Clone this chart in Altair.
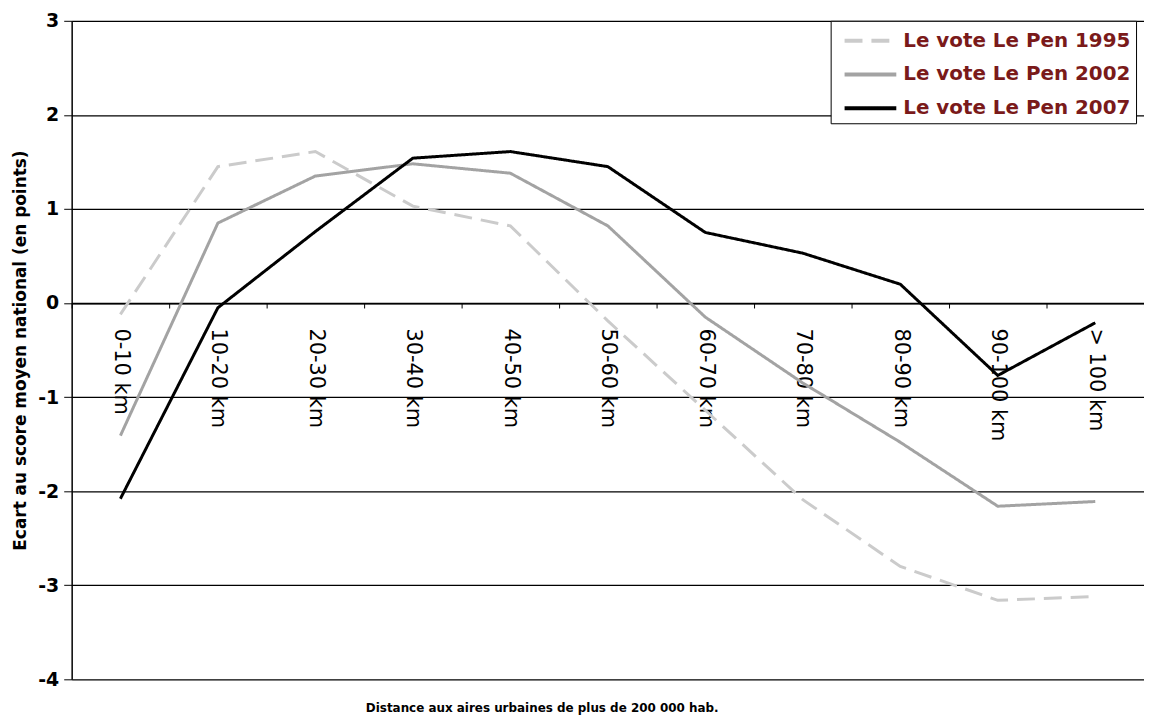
import altair as alt
import pandas as pd

categories = ["0-10 km", "10-20 km", "20-30 km", "30-40 km", "40-50 km", "50-60 km",
              "60-70 km", "70-80 km", "80-90 km", "90-100 km", "> 100 km"]
series_names = ["Le vote Le Pen 1995", "Le vote Le Pen 2002", "Le vote Le Pen 2007"]
v1995 = [-0.12, 1.45, 1.61, 1.03, 0.82, -0.19, -1.14, -2.09, -2.80, -3.16, -3.12]
v2002 = [-1.41, 0.85, 1.35, 1.48, 1.38, 0.82, -0.15, -0.85, -1.48, -2.16, -2.11]
v2007 = [-2.08, -0.05, 0.76, 1.54, 1.61, 1.45, 0.75, 0.53, 0.20, -0.77, -0.21]
y_ticks = [-4, -3, -2, -1, 0, 1, 2, 3]

rows = []
for name, vals in zip(series_names, [v1995, v2002, v2007]):
    for c, v in zip(categories, vals):
        rows.append({"cat": c, "serie": name, "val": v})
df = pd.DataFrame(rows)

W, H = 1078, 662
zero_offset = -(H - H * 3 / 7)

color_scale = alt.Scale(domain=series_names, range=["#cbcbcb", "#a3a3a3", "#000000"])
dash_scale = alt.Scale(domain=series_names, range=[[18, 9], [1, 0], [1, 0]])

legend = alt.Legend(
    title=None, orient="none", legendX=763, legendY=0,
    strokeColor="#000000", fillColor="#ffffff", padding=5,
    symbolType="M-2,0H2", symbolSize=676, symbolStrokeWidth=4, symbolOffset=20,
    labelOffset=18, labelFont="DejaVu Sans", labelFontSize=20, labelFontWeight="bold",
    labelColor="#7a1a1a", rowPadding=9, labelLimit=400,
)

chart = alt.Chart(df).mark_line(strokeWidth=3).encode(
    x=alt.X("cat:N", sort=categories,
            scale=alt.Scale(paddingInner=0, paddingOuter=0),
            axis=alt.Axis(title=None, offset=zero_offset, labelAngle=90, labelAlign="left",
                          labelBaseline="middle", labelPadding=20, labelFont="DejaVu Sans",
                          labelFontSize=21, labelColor="#000000", tickBand="extent",
                          tickSize=5, tickColor="#000000", domainColor="#000000",
                          domainWidth=1.5, grid=False)),
    y=alt.Y("val:Q", scale=alt.Scale(domain=[-4, 3], nice=False),
            axis=alt.Axis(title="Ecart au score moyen national (en points)", values=y_ticks,
                          labelExpr="toString(datum.value)",
                          labelFont="DejaVu Sans", labelFontSize=19,
                          labelFontWeight="bold", labelColor="#000000", labelPadding=5,
                          tickSize=8, tickColor="#000000", domainColor="#000000",
                          domainWidth=1.5, gridColor="#000000", gridWidth=1.2,
                          gridOpacity=1, titleFont="DejaVu Sans", titleFontSize=17,
                          titleFontWeight="bold", titleColor="#000000", titlePadding=8)),
    color=alt.Color("serie:N", scale=color_scale, legend=legend),
    strokeDash=alt.StrokeDash("serie:N", scale=dash_scale, legend=legend),
    order=alt.Order("serie:N"),
).properties(
    width=W, height=H,
    title=alt.TitleParams("Distance aux aires urbaines de plus de 200 000 hab.", orient="bottom",
                          anchor="middle", dx=-66, font="DejaVu Sans", fontSize=12,
                          fontWeight="bold", color="#000000", offset=14),
    autosize=alt.AutoSizeParams(type="none"),
    padding={"left": 64, "top": 11, "right": 0, "bottom": 36},
).configure_view(stroke=None)

chart.save("out.html", embed_options={"renderer": "svg", "actions": False})
